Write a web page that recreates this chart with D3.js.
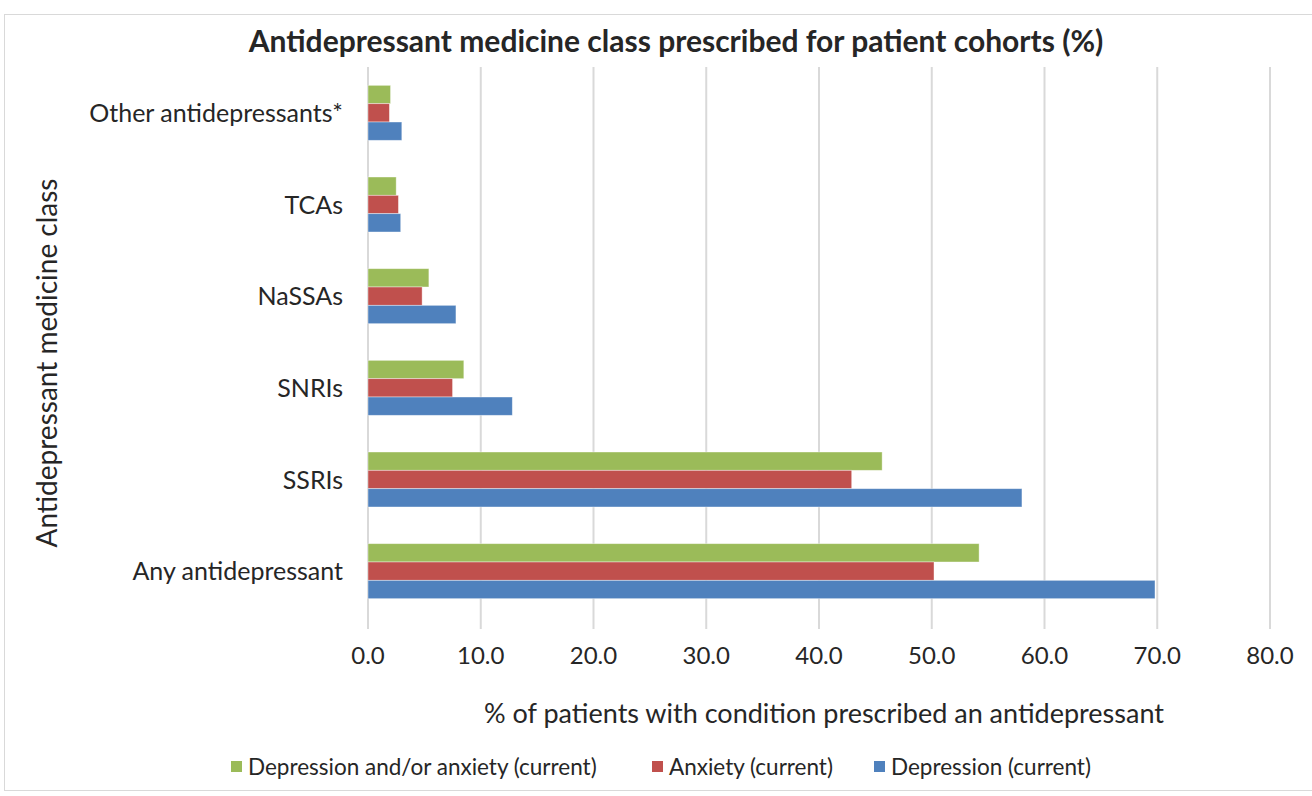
<!DOCTYPE html>
<html>
<head>
<meta charset="utf-8">
<script src="https://cdn.jsdelivr.net/npm/d3@7"></script>
<style>
  body { margin: 0; background: #fff; }
  svg text { font-family: Lato, "Open Sans", sans-serif; fill: #262626; }
</style>
</head>
<body>
<div id="chart"></div>
<script>
// Data
var categories = ['Other antidepressants*', 'TCAs', 'NaSSAs', 'SNRIs', 'SSRIs', 'Any antidepressant'];
var seriesNames = ['Depression and/or anxiety (current)', 'Anxiety (current)', 'Depression (current)'];
var seriesColors = ['#9BBB59', '#C0504D', '#4F81BD'];
var depressionOrAnxiety = [2.0, 2.5, 5.4, 8.5, 45.6, 54.2];
var anxiety = [1.9, 2.7, 4.8, 7.5, 42.9, 50.2];
var depression = [3.0, 2.9, 7.8, 12.8, 58.0, 69.8];
var xTicks = [0, 10, 20, 30, 40, 50, 60, 70, 80];

var seriesValues = [depressionOrAnxiety, anxiety, depression];

var W = 1312, H = 796;
var margin = {top: 67, left: 368, right: 42, bottom: 179};

var svg = d3.select('#chart').append('svg')
    .attr('width', W)
    .attr('height', H);

// chart area border
svg.append('rect')
    .attr('x', 4.5).attr('y', 14.5)
    .attr('width', W - 4).attr('height', H - 20)
    .attr('fill', '#fff')
    .attr('stroke', '#D9D9D9');

var x = d3.scaleLinear()
    .domain([0, 80])
    .range([margin.left, W - margin.right]);

var y = d3.scaleBand()
    .domain(categories)
    .range([margin.top, H - margin.bottom])
    .paddingInner(0.4)
    .paddingOuter(0.2);

var ySub = d3.scaleBand()
    .domain(d3.range(seriesNames.length))
    .range([0, y.bandwidth()]);

// vertical gridlines + tick marks below plot
svg.append('g').selectAll('line')
    .data(xTicks)
    .enter().append('line')
    .attr('x1', function(d) { return x(d); })
    .attr('x2', function(d) { return x(d); })
    .attr('y1', margin.top)
    .attr('y2', H - margin.bottom + 12)
    .attr('stroke', '#D9D9D9')
    .attr('stroke-width', 2);

// bars
var rows = [];
categories.forEach(function(c, i) {
  seriesValues.forEach(function(vals, s) {
    rows.push({cat: c, s: s, v: vals[i]});
  });
});

svg.append('g').selectAll('rect')
    .data(rows)
    .enter().append('rect')
    .attr('x', x(0))
    .attr('y', function(d) { return y(d.cat) + ySub(d.s); })
    .attr('width', function(d) { return x(d.v) - x(0); })
    .attr('height', ySub.bandwidth())
    .attr('fill', function(d) { return seriesColors[d.s]; })
    .attr('stroke', '#fff')
    .attr('stroke-opacity', 0.5)
    .attr('stroke-width', 0.8);

// x tick labels
svg.append('g').selectAll('text')
    .data(xTicks)
    .enter().append('text')
    .attr('x', function(d) { return x(d); })
    .attr('y', 664)
    .attr('text-anchor', 'middle')
    .style('font-size', '24px')
    .text(function(d) { return d3.format('.1f')(d); });

// category labels
svg.append('g').selectAll('text')
    .data(categories)
    .enter().append('text')
    .attr('x', 343)
    .attr('y', function(d) { return y(d) + y.bandwidth() / 2 + 9; })
    .attr('text-anchor', 'end')
    .style('font-size', '25px')
    .text(function(d) { return d; });

// titles
svg.append('text')
    .attr('x', 676).attr('y', 52)
    .attr('text-anchor', 'middle')
    .style('font-size', '30px')
    .style('font-weight', 'bold')
    .text('Antidepressant medicine class prescribed for patient cohorts (%)');

svg.append('text')
    .attr('x', 824).attr('y', 723)
    .attr('text-anchor', 'middle')
    .style('font-size', '27px')
    .text('% of patients with condition prescribed an antidepressant');

svg.append('text')
    .attr('transform', 'translate(57,363) rotate(-90)')
    .attr('text-anchor', 'middle')
    .style('font-size', '28px')
    .text('Antidepressant medicine class');

// legend
var legendX = [231, 652, 874];
var legend = svg.append('g').selectAll('g')
    .data(seriesNames)
    .enter().append('g')
    .attr('transform', function(d, i) { return 'translate(' + legendX[i] + ',761)'; });

legend.append('rect')
    .attr('width', 11).attr('height', 11)
    .attr('fill', function(d, i) { return seriesColors[i]; });

legend.append('text')
    .attr('x', 17).attr('y', 14)
    .style('font-size', '22.5px')
    .text(function(d) { return d; });
</script>
</body>
</html>
